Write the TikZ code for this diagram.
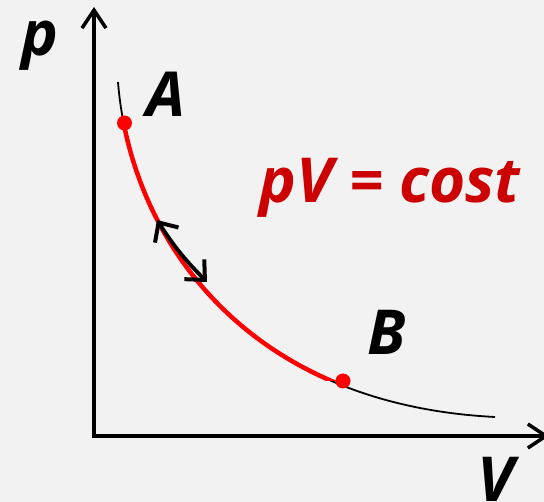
\documentclass[tikz,border=0pt]{standalone}
\usepackage{fontspec}
\setmainfont{Open Sans}
\usetikzlibrary{arrows.meta}
\definecolor{bg}{HTML}{F2F2F2}
\definecolor{dred}{HTML}{CC0000}
\begin{document}
\begin{tikzpicture}[x=1pt,y=-1pt,
  axis/.style={line width=4pt, -{Straight Barb[length=18pt,width=24pt,line width=3.5pt]}},
  dbl/.style={line width=3.8pt, {Straight Barb[length=15pt,width=28pt,line width=4pt]}-{Straight Barb[length=15pt,width=28pt,line width=4pt]}},
  lbl/.style={font=\fontsize{62}{62}\selectfont\bfseries\itshape, inner sep=0pt, anchor=base},
  pt/.style={circle, fill=red, inner sep=0pt, minimum size=15pt}]
\fill[bg] (0,0) rectangle (544,502);
\useasboundingbox (0,0) rectangle (544,502);
\clip (0,0) rectangle (544,502);
\coordinate (O) at (94,436);
\coordinate (ytip) at (94,7);
\coordinate (xtip) at (549,436);
\draw[axis] ([yshift=-2pt]O) -- (ytip);
\draw[axis] ([xshift=-2pt]O) -- (xtip);
% isotherm
\coordinate (c0) at (118,82);
\coordinate (c1) at (130,233);
\coordinate (c2) at (240,404);
\coordinate (c3) at (495,417);
\draw[line width=1.8pt] (c0) .. controls (c1) and (c2) .. (c3);
\begin{scope}
\clip (0,123) rectangle (544,381);
\draw[red, line width=4.5pt] (c0) .. controls (c1) and (c2) .. (c3);
\end{scope}
\node[pt] (A) at (124.5,123) {};
\node[pt] (B) at (343,381) {};
% double arrow
\coordinate (d1) at (157,220);
\coordinate (d2) at (207,282);
\draw[dbl] (d1) to[bend right=6] (d2);
% labels
\node[lbl] (lp) at (40,56) {p};
\node[lbl] (lA) at (166,117) {A};
\node[lbl] (lB) at (387,355) {B};
\node[lbl] (lV) at (496,502) {V};
\node[lbl, text=dred] (eq) at (390,203) {pV = cost};
\end{tikzpicture}
\end{document}
